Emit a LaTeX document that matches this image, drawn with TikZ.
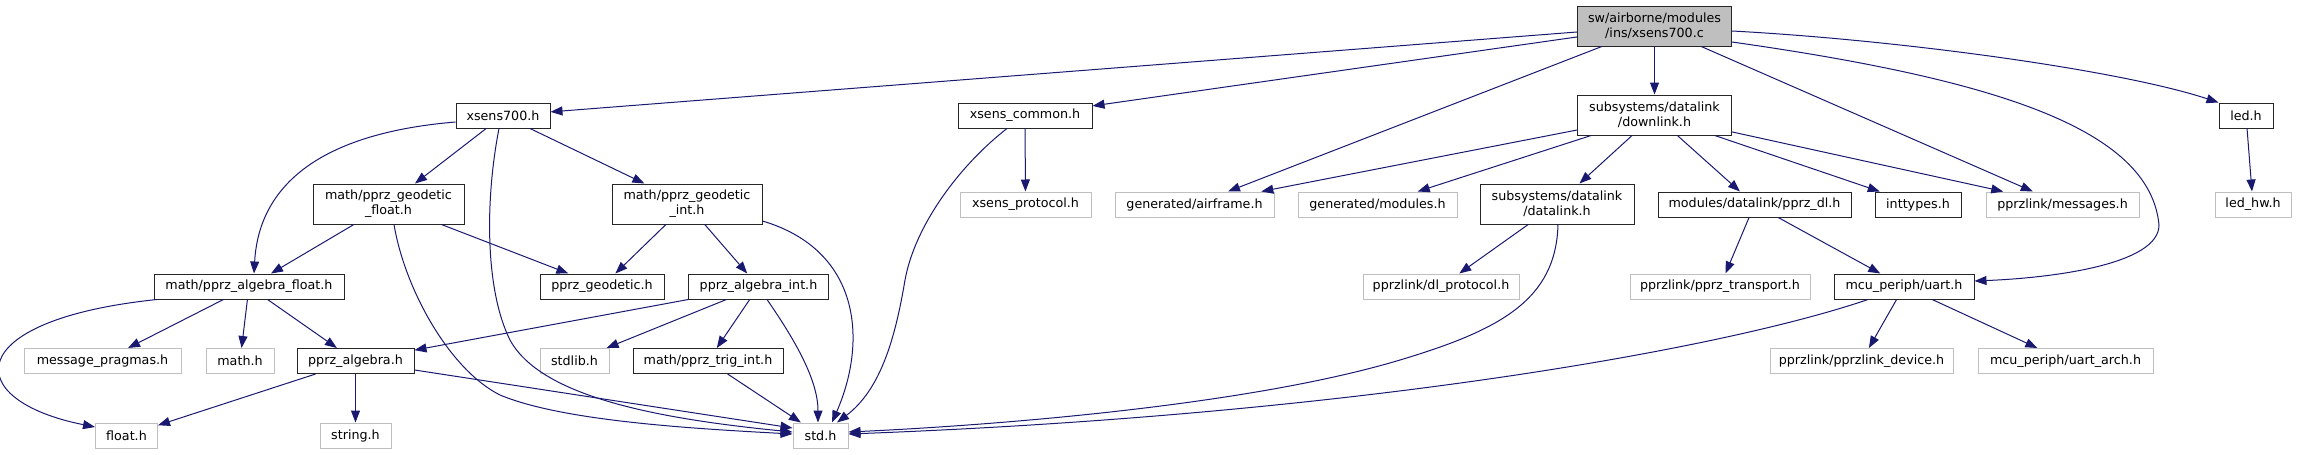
\documentclass[tikz,border=0pt]{standalone}
\usepackage{fontspec}
\setmainfont{DejaVu Sans}
\usetikzlibrary{arrows.meta}
\definecolor{edgecolor}{HTML}{191970}
\definecolor{greycolor}{HTML}{BFBFBF}
\tikzset{mainbox/.style={draw=black!85, fill=greycolor, line width=1pt, inner sep=2pt, align=center, minimum height=40pt}}
\tikzset{filebox/.style={draw=black!85, fill=white, line width=1pt, inner sep=2pt, align=center, minimum height=25pt}}
\tikzset{extbox/.style={draw=greycolor, fill=white, line width=1pt, inner sep=2pt, align=center, minimum height=25pt}}
\tikzset{edge/.style={draw=edgecolor, line width=1pt, -{Triangle[length=12pt,width=9pt]}}}

\begin{document}
\begin{tikzpicture}[x=1pt, y=-1pt, font=\fontsize{12.7}{15}\selectfont]
	\useasboundingbox (0,0) rectangle (2297,455);
	
	%%% NODES %%%
	
	% SOURCE
	\node[mainbox, minimum width=154] at (1654.5,26) (xsenssource) {sw/airborne/modules\\/ins/xsens700.c};
	
	% RANK 1
	\node[filebox, minimum width=94] at (503,115.5) (xsensheader) {xsens700.h};
	\node[filebox, minimum width=134] at (1025,115.5) (xsenscommon) {xsens\_common.h};
	\node[filebox, minimum width=154, minimum height=40] at (1654.5,115) (downlink) {subsystems/datalink\\/downlink.h};
	\node[filebox, minimum width=54] at (2246,115.5) (led) {led.h};
	
	% RANK 2
	\node[filebox, minimum width=151, minimum height=40] at (388.5,204) (geodeticfloat) {math/pprz\_geodetic\\\_float.h};
	\node[filebox, minimum width=150, minimum height=40] at (687,204) (geodeticint) {math/pprz\_geodetic\\\_int.h};
	\node[extbox, minimum width=131] at (1025.5,204.5) (xsensprotocol) {xsens\_protocol.h};
	\node[extbox, minimum width=159] at (1194.5,204.5) (airframe) {generated/airframe.h};
	\node[extbox, minimum width=159] at (1377.5,204.5) (modules) {generated/modules.h};
	\node[filebox, minimum width=154, minimum height=40] at (1557,204) (datalink) {subsystems/datalink\\/datalink.h};
	\node[filebox, minimum width=193] at (1754.5,204.5) (pprzdl) {modules/datalink/pprz\_dl.h};
	\node[filebox, minimum width=86] at (1918,204.5) (inttypes) {inttypes.h};
	\node[extbox, minimum width=153] at (2062.5,204.5) (messages) {pprzlink/messages.h};
	\node[extbox, minimum width=76] at (2253,204.5) (ledhw) {led\_hw.h};
	
	% RANK 3
	\node[filebox, minimum width=190] at (249,286.5) (algebrafloat) {math/pprz\_algebra\_float.h};
	\node[filebox, minimum width=124] at (602,286.5) (geodetic) {pprz\_geodetic.h};
	\node[filebox, minimum width=140] at (758.5,286.5) (algebraint) {pprz\_algebra\_int.h};
	\node[extbox, minimum width=156] at (1441,286.5) (dlprotocol) {pprzlink/dl\_protocol.h};
	\node[extbox, minimum width=180] at (1720,286.5) (pprztransport) {pprzlink/pprz\_transport.h};
	\node[filebox, minimum width=140] at (1904,286.5) (uart) {mcu\_periph/uart.h};
	
	% RANK 4
	\node[extbox, minimum width=157] at (102.5,361) (messagepragmas) {message\_pragmas.h};
	\node[extbox, minimum width=68] at (240,361) (mathh) {math.h};
	\node[filebox, minimum width=117] at (355.5,361) (algebra) {pprz\_algebra.h};
	\node[extbox, minimum width=69] at (574.5,361) (stdlib) {stdlib.h};
	\node[filebox, minimum width=150] at (708,361) (trigint) {math/pprz\_trig\_int.h};
	\node[extbox, minimum width=183] at (1861.5,361) (pprzlinkdevice) {pprzlink/pprzlink\_device.h};
	\node[extbox, minimum width=175] at (2065.5,361) (uartarch) {mcu\_periph/uart\_arch.h};
	
	% RANK 5
	\node[extbox, minimum width=62] at (126.5,435.5) (floath) {float.h};
	\node[extbox, minimum width=71] at (355.5,435.5) (stringh) {string.h};
	\node[extbox, minimum width=55] at (820.5,435.5) (stdh) {std.h};
	
	%%% EDGES %%%
	
	% XSENS700.C
	\draw[edge] (xsenssource) -- (xsensheader);
	\draw[edge] (xsenssource) -- (xsenscommon);
	\draw[edge] (xsenssource) -- (airframe);
	\draw[edge] (xsenssource) -- (downlink);
	\draw[edge] (xsenssource) -- (messages);
	\draw[edge] (xsenssource.east |- 0,42) .. controls (2000,80) and (2150,130) .. (2159,225) .. controls (2159,265) and (2050,278) .. (uart.east |- 0,281);
	\draw[edge] (xsenssource.east |- 0,31) .. controls (1900,40) and (2120,70) .. (led.north west);
	
	% XSENS700.H
	\draw[edge] (xsensheader) -- (geodeticfloat);
	\draw[edge] (xsensheader) -- (geodeticint);
	\draw[edge] (xsensheader.west |- 0,122) .. controls (300,135) and (258,200) .. (algebrafloat.north -| 254,0);
	\draw[edge] (xsensheader.south -| 499,0) .. controls (485,200) and (485,290) .. (510,340) .. controls (540,395) and (650,418) .. (stdh.west |- 0,432);
	
	% GEODETIC
	\draw[edge] (geodeticfloat) -- (algebrafloat);
	\draw[edge] (geodeticfloat) -- (geodetic);
	\draw[edge] (geodeticfloat.south -| 394,0) .. controls (405,290) and (450,370) .. (500,395) .. controls (560,420) and (680,428) .. (stdh.west |- 0,434);
	\draw[edge] (geodeticint) -- (geodetic);
	\draw[edge] (geodeticint) -- (algebraint);
	\draw[edge] (geodeticint.east |- 0,221) .. controls (860,250) and (868,340) .. (stdh.north -| 832,0);
	
	% ALGEBRA
	\draw[edge] (algebrafloat.south -| 157,0) .. controls (-40,320) and (-40,400) .. (floath.west |- 0,427);
	\draw[edge] (algebrafloat) -- (messagepragmas);
	\draw[edge] (algebrafloat) -- (mathh);
	\draw[edge] (algebrafloat) -- (algebra);
	\draw[edge] (algebraint) -- (algebra);
	\draw[edge] (algebraint) -- (stdlib);
	\draw[edge] (algebraint) -- (trigint);
	\draw[edge] (algebraint.south -| 767,0) .. controls (795,340) and (818,380) .. (stdh.north -| 818,0);
	\draw[edge] (algebra) -- (floath);
	\draw[edge] (algebra) -- (stringh);
	\draw[edge] (algebra) -- (stdh.west |- 0,428);
	\draw[edge] (trigint) -- (stdh);
	
	% XSENS_COMMON.H
	\draw[edge] (xsenscommon) -- (xsensprotocol);
	\draw[edge] (xsenscommon.south -| 1007,0) .. controls (960,165) and (915,225) .. (905,280) .. controls (895,340) and (880,390) .. (stdh.north -| 837,0);
	
	% DOWNLINK / DATALINK
	\draw[edge] (downlink) -- (airframe);
	\draw[edge] (downlink) -- (modules);
	\draw[edge] (downlink) -- (datalink);
	\draw[edge] (downlink) -- (pprzdl);
	\draw[edge] (downlink) -- (inttypes);
	\draw[edge] (downlink) -- (messages);
	\draw[edge] (datalink) -- (dlprotocol);
	\draw[edge] (datalink.south -| 1558,0) .. controls (1556,300) and (1500,330) .. (1400,360) .. controls (1250,405) and (1000,425) .. (stdh.east |- 0,432);
	\draw[edge] (pprzdl) -- (pprztransport);
	\draw[edge] (pprzdl) -- (uart);
	
	% UART / LED
	\draw[edge] (uart.south -| 1868,0) .. controls (1720,350) and (1350,415) .. (stdh.east |- 0,434);
	\draw[edge] (uart) -- (pprzlinkdevice);
	\draw[edge] (uart) -- (uartarch);
	\draw[edge] (led) -- (ledhw);
	
\end{tikzpicture}
\end{document}
